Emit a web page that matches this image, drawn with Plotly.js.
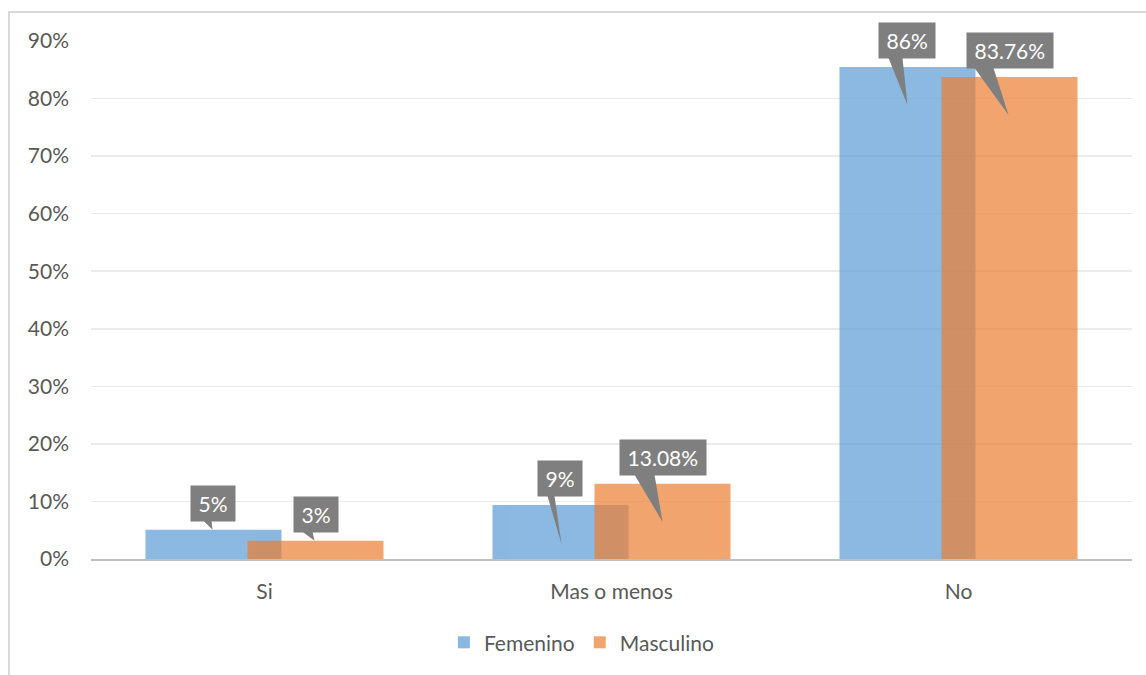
<!DOCTYPE html>
<html>
<head>
<meta charset="utf-8">
<script src="https://cdn.plot.ly/plotly-3.0.1.min.js"></script>
<style>
  html, body { margin: 0; padding: 0; background: #ffffff; }
  #frame { position: absolute; left: 8px; top: 11px; width: 1300px; height: 800px;
           border-left: 2px solid #D9D9D9; border-top: 2px solid #D9D9D9; }
  #chart { position: absolute; left: 0; top: 0; width: 1146px; height: 675px; }
</style>
</head>
<body>
<div id="frame"></div>
<div id="chart"></div>
<script>
// ---- data ----
const categories = ["Si", "Mas o menos", "No"];
const femenino = [0.051, 0.094, 0.855];
const masculino = [0.0316, 0.1308, 0.8376];
const femeninoLabels = ["5%", "9%", "86%"];
const masculinoLabels = ["3%", "13.08%", "83.76%"];
const yTickVals = [0, 0.1, 0.2, 0.3, 0.4, 0.5, 0.6, 0.7, 0.8, 0.9];
const yTickText = ["0%", "10%", "20%", "30%", "40%", "50%", "60%", "70%", "80%", "90%"];

// ---- styles / geometry (pixels) ----
const FONT = "Lato, 'Open Sans', sans-serif";
const FS = 21;
const barWidth = 0.392;
const barShift = 0.147;
const blue = "#5B9BD5", orange = "#ED7D31";
const calloutGray = "#7F7F7F";
const boxLift = 26.5;
// wedge: [baseLeft, baseRight, tipX, tipY] relative to bar top centre, y up
const femWedges = [[-10, -2, -1, 0], [-13, -6, 1, -39], [-19, -5, 0, -38]];
const masWedges = [[-13, -3, -1, 0], [-28, -8, 0, -38], [-35, -16, -1, -38]];
const wedgeBaseY = 9;

const xIdx = categories.map((_, i) => i);

const traces = [
  { type: "bar", name: "Femenino", x: xIdx, y: femenino,
    width: barWidth, offset: -barShift - barWidth / 2,
    marker: { color: blue }, opacity: 0.7, hoverinfo: "skip" },
  { type: "bar", name: "Masculino", x: xIdx, y: masculino,
    width: barWidth, offset: barShift - barWidth / 2,
    marker: { color: orange }, opacity: 0.7, hoverinfo: "skip" }
];

const annotations = [];
const shapes = [];
function addCallouts(vals, labels, wedges, shift) {
  vals.forEach((v, i) => {
    const xc = i + shift;
    annotations.push({
      x: xc, y: v, xref: "x", yref: "y", text: "\u2009" + labels[i] + "\u2009", showarrow: false,
      xanchor: "center", yanchor: "middle", yshift: boxLift,
      bgcolor: calloutGray, borderpad: 5,
      font: { family: FONT, size: FS, color: "#ffffff" }
    });
    const w = wedges[i];
    shapes.push({
      type: "path", xref: "x", yref: "y", xsizemode: "pixel", ysizemode: "pixel",
      xanchor: xc, yanchor: v, layer: "above",
      path: `M${w[0]},${wedgeBaseY} L${w[1]},${wedgeBaseY} L${w[2]},${w[3]} Z`,
      fillcolor: calloutGray, line: { width: 0 }
    });
  });
}
addCallouts(femenino, femeninoLabels, femWedges, -barShift);
addCallouts(masculino, masculinoLabels, masWedges, barShift);

const layout = {
  width: 1146, height: 675,
  margin: { l: 91, r: 14, t: 41, b: 114 },
  paper_bgcolor: "rgba(0,0,0,0)", plot_bgcolor: "rgba(0,0,0,0)",
  barmode: "overlay",
  font: { family: FONT, size: FS, color: "#595959" },
  xaxis: {
    range: [-0.5, 2.5], tickmode: "array", tickvals: xIdx, ticktext: categories,
    showgrid: false, zeroline: false, showline: true, linecolor: "#BFBFBF", linewidth: 2,
    ticks: "", ticklabelstandoff: 13, fixedrange: true
  },
  yaxis: {
    range: [0, 0.9], tickmode: "array", tickvals: yTickVals, ticktext: yTickText,
    showgrid: true, gridcolor: "#EBEBEB", gridwidth: 1.5, zeroline: false, showline: false,
    ticks: "", ticklabelstandoff: 21, fixedrange: true
  },
  showlegend: true,
  legend: { orientation: "h", x: 0.339, xanchor: "left", y: -0.1615, yanchor: "middle",
            font: { family: FONT, size: FS, color: "#595959" }, itemwidth: 30, traceorder: "normal" },
  annotations: annotations,
  shapes: shapes
};

Plotly.newPlot("chart", traces, layout, { displayModeBar: false, staticPlot: true });
</script>
</body>
</html>
